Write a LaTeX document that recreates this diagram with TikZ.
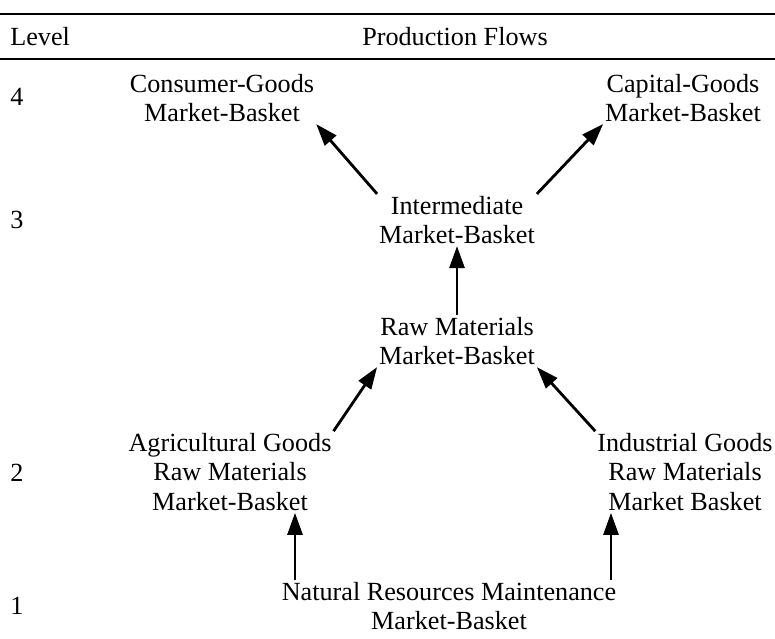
\documentclass[tikz,border=0pt]{standalone}
\usepackage{fontspec}
\setmainfont{Liberation Serif}
\usepackage{tikz}
\usetikzlibrary{positioning,arrows.meta,calc}

\tikzset{
  basket/.style={align=center, inner sep=1pt, font=\fontsize{14.9}{16.8}\selectfont},
  lvl/.style={anchor=west, inner sep=0pt, font=\fontsize{14.9}{16.8}\selectfont},
  flow/.style={line width=1.6pt, -{Triangle[length=12.5pt,width=8.5pt]}},
  rule/.style={line width=1.2pt}
}

\begin{document}
\begin{tikzpicture}[x=0.02cm, y=-0.02cm]
\useasboundingbox (0,0) rectangle (775,639);

% Header rules
\draw[rule] (0,14) -- (775,14);
\draw[rule] (0,59) -- (775,59);
\node[lvl] (hlevel) at (10,37) {Level};
\node[basket] (hflows) at (455,37) {Production Flows};

% Level numbers
\node[lvl] (l4) at (10,97) {4};
\node[lvl] (l3) at (10,220) {3};
\node[lvl] (l2) at (10,473) {2};
\node[lvl] (l1) at (10,606) {1};

% Market baskets
\node[basket] (cons) at (222,98) {Consumer-Goods\\Market-Basket};
\node[basket] (cap) at (683,98) {Capital-Goods\\Market-Basket};
\node[basket] (inter) at (457,220) {Intermediate\\Market-Basket};
\node[basket] (raw) at (457,341) {Raw Materials\\Market-Basket};
\node[basket] (agri) at (230,472) {Agricultural Goods\\Raw Materials\\Market-Basket};
\node[basket] (ind) at (685,472) {Industrial Goods\\Raw Materials\\Market Basket};
\node[basket] (nat) at (449,606) {Natural Resources Maintenance\\Market-Basket};

% Flows
\coordinate (xa) at (295,0);
\coordinate (xi) at (611,0);
\draw[flow] (inter.north west) -- (cons.south east);
\draw[flow] (inter.north east) -- (cap.south west);
\draw[flow] (raw.north) -- (inter.south);
\draw[flow] (agri.north east) -- (raw.south west);
\draw[flow] (ind.north west) -- (raw.south east);
\draw[flow] (nat.north -| xa) -- (agri.south -| xa);
\draw[flow] (nat.north -| xi) -- (ind.south -| xi);
\end{tikzpicture}
\end{document}
